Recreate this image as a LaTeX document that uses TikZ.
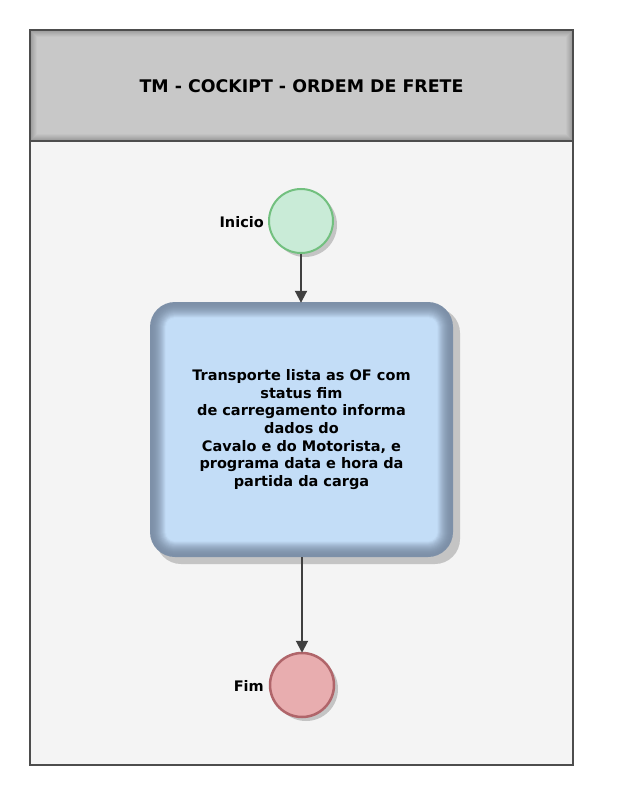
\documentclass[tikz,border=0pt]{standalone}
\usepackage{fontspec}
\setmainfont{DejaVu Sans}
\usetikzlibrary{arrows.meta}
\definecolor{hdrlight}{HTML}{C8C8C8}
\definecolor{hdrdark}{HTML}{9A9A9A}
\definecolor{framec}{HTML}{4D4D4D}
\definecolor{bodybg}{HTML}{F4F4F4}
\definecolor{startfill}{HTML}{C9EBD7}
\definecolor{startline}{HTML}{72C07F}
\definecolor{endfill}{HTML}{E8ADAF}
\definecolor{endline}{HTML}{B0656A}
\definecolor{boxin}{HTML}{C3DDF7}
\definecolor{boxedge}{HTML}{7D90A8}
\definecolor{arrc}{HTML}{404040}
\definecolor{shadowc}{HTML}{C4C4C4}
\tikzset{
  lbl/.style={font=\bfseries\fontsize{14.5}{17.7}\selectfont, text=black},
  evt/.style={circle, minimum size=64pt, inner sep=0pt, line width=2pt},
  arr/.style={draw=arrc, line width=2pt, -{Triangle[length=12pt,width=12pt]}, shorten >=-1pt}
}
\begin{document}
\begin{tikzpicture}[x=1pt,y=-1pt]
\useasboundingbox (0,0) rectangle (616,797);
\fill[white] (0,0) rectangle (616,797);
% body
\fill[bodybg] (30,141) rectangle (573,765);
% header with bevel
\foreach \i in {0,...,7}{
  \pgfmathsetmacro\p{min(100,\i*15)}
  \fill[hdrlight!\p!hdrdark] (30+\i,30+\i) rectangle (573-\i,141-\i);
}
\node[lbl, font=\bfseries\fontsize{17.4}{20}\selectfont] (title) at (301.5,86) {TM - COCKIPT - ORDEM DE FRETE};
% frame
\draw[framec, line width=2.2pt] (30,30) rectangle (573,765);
\draw[framec, line width=2.2pt] (30,141) -- (573,141);
% task box shading
\fill[shadowc, rounded corners=25pt] (156,308) rectangle (460,564);
\foreach \i in {0,...,16}{
  \pgfmathsetmacro\p{min(100,\i*\i*0.42)}
  \pgfmathsetmacro\r{max(4,25-\i)}
  \fill[boxin!\p!boxedge, rounded corners=\r pt] (150+\i,302+\i) rectangle (453-\i,557-\i);
}
\node[lbl, align=center, minimum width=303pt, minimum height=255pt, inner sep=0pt] (task) at (301.5,429.5)
 {Transporte lista as OF com\\status fim\\de carregamento informa\\dados do\\Cavalo e do Motorista, e\\programa data e hora da\\partida da carga};
% start event
\fill[shadowc] (305,225) circle (32pt);
\node[evt, fill=startfill, draw=startline] (start) at (301,221) {};
\node[lbl, anchor=east, inner sep=0pt] (startlbl) at (264,222) {Inicio};
% end event
\fill[shadowc] (306,689) circle (32pt);
\node[evt, fill=endfill, draw=endline, line width=2.5pt] (end) at (302,685) {};
\node[lbl, anchor=east, inner sep=0pt] (endlbl) at (264,686) {Fim};
% connectors
\draw[arr] (start) -- (start |- task.north);
\draw[arr] (task.south -| end) -- (end);
\end{tikzpicture}
\end{document}
